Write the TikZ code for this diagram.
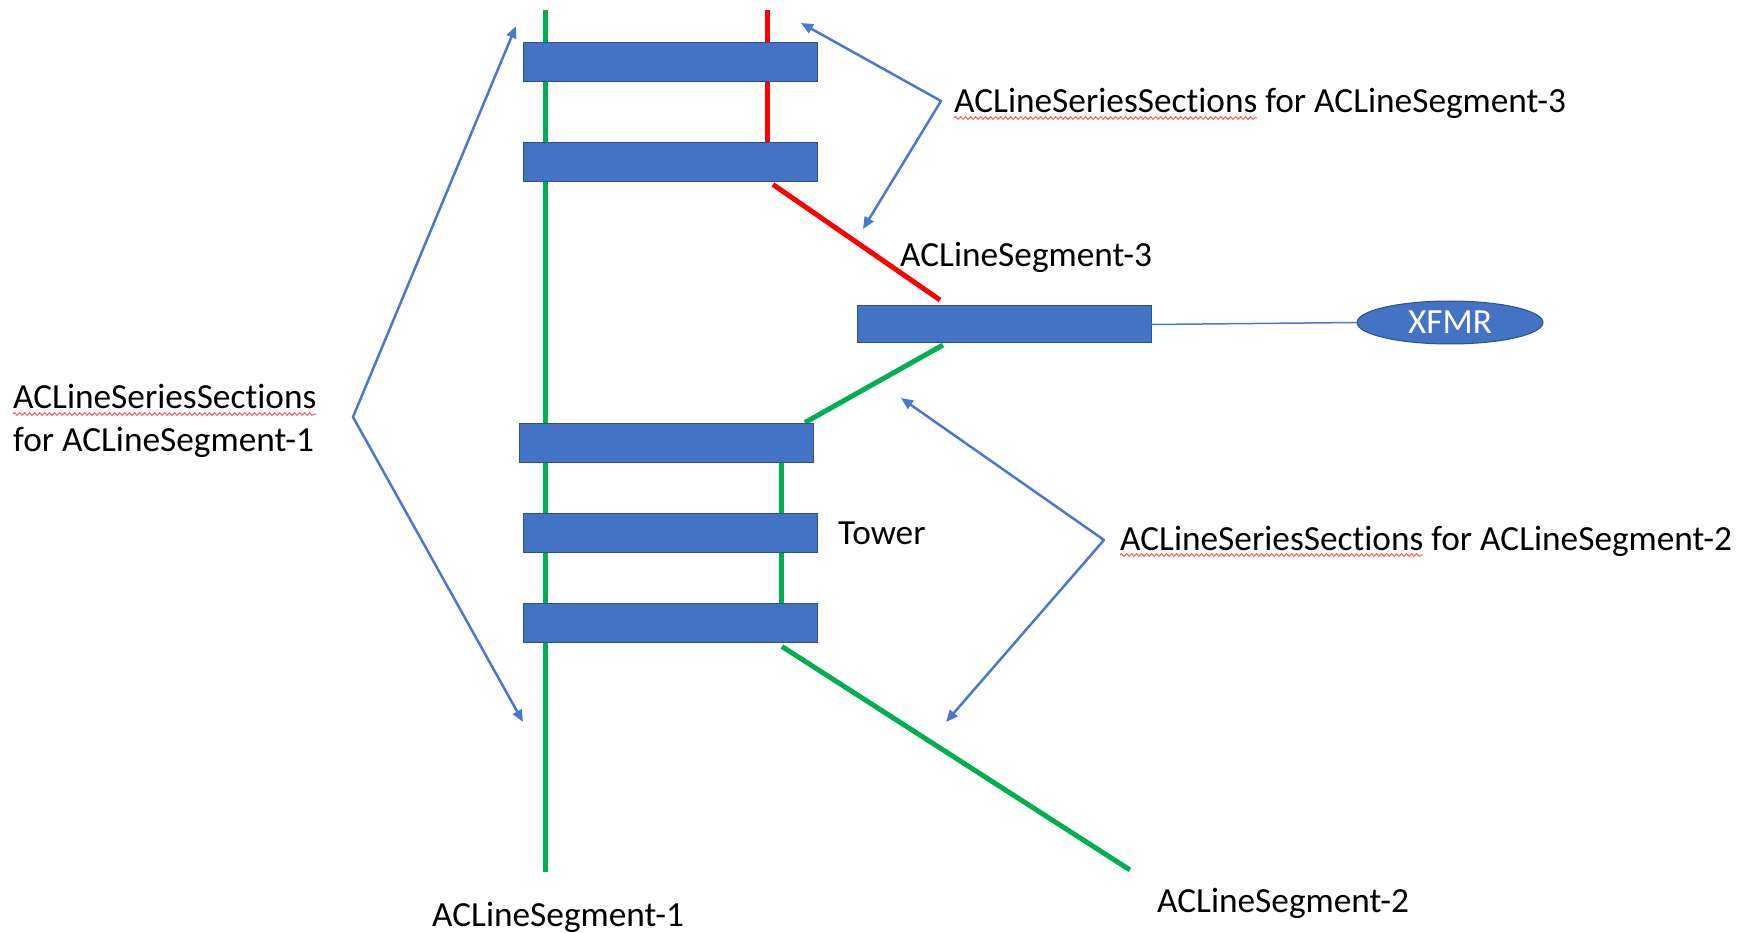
\documentclass[tikz,border=0pt]{standalone}
\usepackage{fontspec}
\setmainfont{Carlito}[Ligatures=NoCommon]
\usetikzlibrary{arrows.meta,calc,positioning,shapes.geometric,backgrounds}
\usetikzlibrary{decorations.pathmorphing}
\definecolor{barcol}{HTML}{4472C4}
\definecolor{barline}{HTML}{2F528F}
\definecolor{notecol}{HTML}{4A78CC}
\definecolor{seg1col}{HTML}{00B050}
\colorlet{seg2col}{seg1col}
\definecolor{seg3col}{HTML}{FF0000}
\definecolor{spellcol}{HTML}{FF5A5A}
\tikzset{
  section/.style={rectangle,draw=barline,line width=1pt,fill=barcol,minimum width=294pt,minimum height=39pt,inner sep=0pt,outer sep=0pt},
  xfmrbox/.style={ellipse,draw=barline,line width=1pt,fill=barcol,text=white,minimum width=186pt,minimum height=43pt,inner sep=0pt,font=\fontsize{35.3}{42.5}\selectfont},
  conductor/.style={line width=5pt},
  callout/.style={arrows={Triangle[length=12pt,width=10pt]-Triangle[length=12pt,width=10pt]},line width=2.5pt,notecol,line join=round},
  tap/.style={line width=1.5pt,notecol},
  annot/.style={inner sep=0pt,anchor=base west,font=\fontsize{35.3}{42.5}\selectfont},
  spell/.style={spellcol,line width=1pt,decorate,decoration={snake,segment length=5pt,amplitude=1.4pt}},
}

\begin{document}
\begin{tikzpicture}[x=1pt,y=-1pt]
  \useasboundingbox (0,0) rectangle (1754,933);
  % --- Definitions ---
  \def\wordW{303}   % width of "ACLineSeriesSections"

  % --- 1. Series sections ---
  \node[section] (top1) at (670,62.5) {};
  \node[section] (top2) at (670,162) {};
  \node[section,minimum height=37pt] (mid) at (1004,324.5) {};
  \node[section] (low1) at (666,443) {};
  \node[section] (low2) at (670,533) {};
  \node[section] (low3) at (670,623) {};

  % --- 2. Transformer ---
  \node[xfmrbox] (xfmr) at (1450,322.5) {XFMR};
  \draw[tap] (mid.east) -- (xfmr.west);

  % --- 3. Line segments (behind the sections) ---
  \coordinate (g1top) at (545,10);
  \coordinate (g1bot) at (545,872);
  \coordinate (r3top) at (767,10);
  \coordinate (g2end) at (1130,870);
  \coordinate (g2v) at ($(low1.south east)+(-32,0)$);
  \begin{scope}[on background layer]
    % segment 1
    \draw[conductor,seg1col] (g1top) -- (g1bot);
    % segment 3
    \draw[conductor,seg3col] (r3top) -- (r3top |- top2.north);
    \draw[conductor,seg3col] ($(top2.south east)+(-44,3)$) -- ($(mid.north west)+(83,-6)$);
    % segment 2
    \draw[conductor,seg2col] ($(mid.south west)+(86,2)$) -- ($(low1.north east)+(-8,-1)$);
    \draw[conductor,seg2col] (g2v) -- (g2v |- low3.north);
    \draw[conductor,seg2col] ($(low3.south east)+(-35,4)$) -- (g2end);
  \end{scope}

  % --- 4. Labels ---
  \node[annot] (lbl3) at (954,113) {ACLineSeriesSections for ACLineSegment-3};
  \node[annot] (seg3) at (900,267) {ACLineSegment-3};
  \node[annot,align=left] (lbl1) at (13,451) {ACLineSeriesSections\\for ACLineSegment-1};
  \node[annot] (tower) at (838,544) {Tower};
  \node[annot] (lbl2) at (1120,550) {ACLineSeriesSections for ACLineSegment-2};
  \node[annot] (seg2) at (1157,912) {ACLineSegment-2};
  \node[annot] (seg1) at (432,926) {ACLineSegment-1};

  % spell-check marks
  \draw[spell] ($(lbl3.base west)+(0,5)$) -- ++(\wordW,0);
  \draw[spell] ($(lbl2.base west)+(0,5)$) -- ++(\wordW,0);
  \draw[spell] ($(lbl1.base west)+(0,-37)$) -- ++(\wordW,0);

  % --- 5. Callout arrows ---
  \coordinate (v1) at (353,417);
  \coordinate (v1a) at (516,26);
  \coordinate (v1b) at (523,722);
  \draw[callout] (v1a) -- (v1) -- (v1b);

  \coordinate (v3) at (941,101);
  \coordinate (v3a) at (801,23);
  \coordinate (v3b) at (863,229);
  \draw[callout] (v3a) -- (v3) -- (v3b);

  \coordinate (v2) at (1104,540);
  \coordinate (v2a) at (901,398);
  \coordinate (v2b) at (946,722);
  \draw[callout] (v2a) -- (v2) -- (v2b);

\end{tikzpicture}
\end{document}
